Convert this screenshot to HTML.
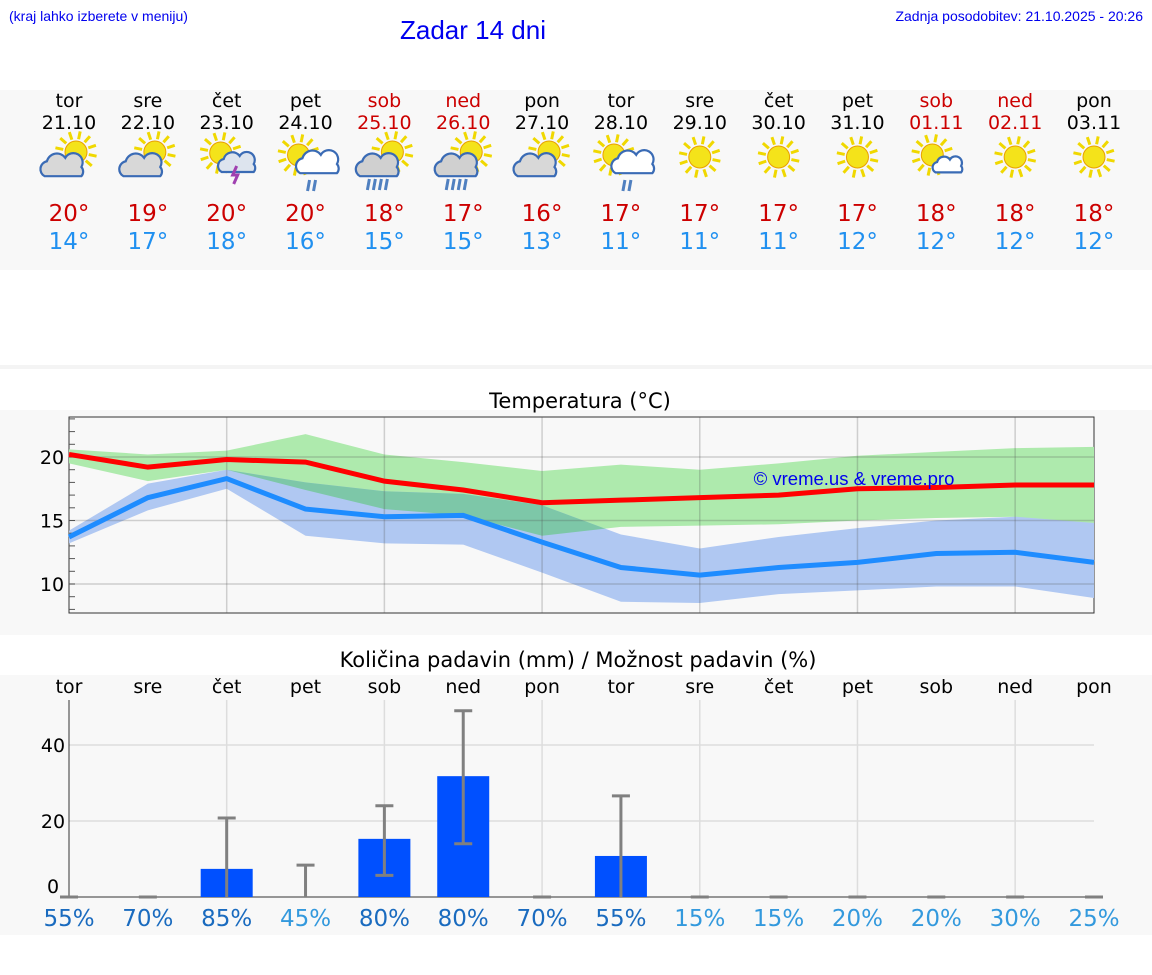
<!DOCTYPE html>
<html><head><meta charset="utf-8"><style>
body{margin:0;width:1152px;height:975px;background:#fff;font-family:"DejaVu Sans","Liberation Sans",sans-serif;position:relative;overflow:hidden}
.a{position:absolute}
.band{position:absolute;left:0;width:1152px;background:#f8f8f8}
.hd{font-family:"Liberation Sans",sans-serif}
</style></head><body>
<div class="a hd" style="left:9px;top:8px;font-size:14px;color:#0000ee">(kraj lahko izberete v meniju)</div>
<div class="a hd" style="left:400px;top:15px;font-size:26px;color:#0000ee">Zadar 14 dni</div>
<div class="a hd" style="right:9px;top:8px;font-size:14px;color:#0000ee">Zadnja posodobitev: 21.10.2025 - 20:26</div>
<div class="band" style="top:90px;height:180px"></div>
<div class="band" style="top:365px;height:4px;background:#f4f4f4"></div>
<div class="band" style="top:410px;height:225px"></div>
<div class="band" style="top:675px;height:260px"></div>
<svg class="a" style="left:0;top:0" width="1152" height="975" id="s"></svg>
<script>
const days=["tor","sre","čet","pet","sob","ned","pon","tor","sre","čet","pet","sob","ned","pon"];
const dates=["21.10","22.10","23.10","24.10","25.10","26.10","27.10","28.10","29.10","30.10","31.10","01.11","02.11","03.11"];
const weekend=[0,0,0,0,1,1,0,0,0,0,0,1,1,0];
const icons=["pc","pc","storm","rain","shower","shower","pc","rain","sun","sun","sun","sc","sun","sun"];
const tMax=[20,19,20,20,18,17,16,17,17,17,17,18,18,18];
const tMin=[14,17,18,16,15,15,13,11,11,11,12,12,12,12];
const maxLine=[20.2,19.2,19.8,19.6,18.1,17.4,16.4,16.6,16.8,17.0,17.5,17.6,17.8,17.8];
const maxHi=[20.6,20.2,20.5,21.8,20.2,19.6,18.9,19.4,19.0,19.5,20.1,20.4,20.7,20.8];
const maxLo=[19.5,18.1,19.0,17.4,15.9,15.4,13.8,14.5,14.6,14.7,15.0,15.2,15.3,14.8];
const minLine=[13.7,16.8,18.3,15.9,15.3,15.4,13.3,11.3,10.7,11.3,11.7,12.4,12.5,11.7];
const minHi=[14.2,17.9,19.0,18.0,17.3,17.1,16.2,13.9,12.8,13.7,14.4,15.0,15.3,14.8];
const minLo=[13.2,15.8,17.5,13.8,13.2,13.1,10.9,8.6,8.5,9.2,9.5,9.8,9.8,8.9];
const tTicks=[10,15,20];
const rain=[0,0,7.4,0,15.3,31.8,0,10.8,0,0,0,0,0,0];
const rainLo=[0,0,0,0,5.7,14,0,0,0,0,0,0,0,0];
const rainHi=[0,0,20.8,8.4,24,49,0,26.6,0,0,0,0,0,0];
const prob=[55,70,85,45,80,80,70,55,15,15,20,20,30,25];
const rTicks=[0,20,40];
const S=document.getElementById('s'),NS='http://www.w3.org/2000/svg';
function el(t,a,p){const e=document.createElementNS(NS,t);for(const k in a)e.setAttribute(k,a[k]);(p||S).appendChild(e);return e}
function tx(x,y,s,o){const e=el('text',Object.assign({x:x,y:y,'text-anchor':'middle','font-family':'DejaVu Sans, Liberation Sans, sans-serif'},o));e.textContent=s;return e}
const X=i=>69+i*(1094-69)/13;
function sun(g,cx,cy,r){for(let k=0;k<12;k++){const a=k*Math.PI/6+0.2;el('line',{x1:cx+Math.cos(a)*(r+2),y1:cy+Math.sin(a)*(r+2),x2:cx+Math.cos(a)*(r+10),y2:cy+Math.sin(a)*(r+10),stroke:'#f0d800','stroke-width':3},g)}el('circle',{cx:cx,cy:cy,r:r,fill:'#f4e31a',stroke:'#e8a000','stroke-width':1},g)}
function cloud(g,cx,cy,sc,fill){el('path',{d:`M${cx-16*sc},${cy+8*sc} a${7*sc},${7*sc} 0 0 1 ${2*sc},${-13*sc} a${9*sc},${9*sc} 0 0 1 ${16*sc},${-3*sc} a${8*sc},${8*sc} 0 0 1 ${14*sc},${8*sc} a${6*sc},${6*sc} 0 0 1 0,${8*sc} z`,fill:fill,stroke:'#3a6bb5','stroke-width':2.2},g)}
icons.forEach((t,i)=>{const c=X(i);
 const g=el('g',{});
 
 
 const c1=weekend[i]?'#cc0000':'#000';
 tx(c,107,days[i],{'font-size':19,fill:c1});
 tx(c,129,dates[i],{'font-size':19,fill:c1});
 if(t=='sun'){sun(g,c,157,11)}
 else if(t=='pc'){sun(g,c+7,152,11);cloud(g,c-6,167,1.15,'#d8d8d8')}
 else if(t=='storm'){sun(g,c-6,153,11);cloud(g,c+11,164,1,'#dde4ee');el('path',{d:`M${c+10},166 l-4,9 h5 l-4,9`,stroke:'#a040b0','stroke-width':3,fill:'none'},g)}
 else if(t=='rain'){sun(g,c-7,155,11);cloud(g,c+13,164,1.15,'#fff');el('path',{d:`M${c+4},180 l-2,11 M${c+10},180 l-2,11`,stroke:'#5080c0','stroke-width':3},g)}
 else if(t=='shower'){sun(g,c+8,152,11);cloud(g,c-6,167,1.15,'#d0d0d0');el('path',{d:`M${c-15},179 l-2,11 M${c-9},179 l-2,11 M${c-3},179 l-2,11 M${c+3},179 l-2,11`,stroke:'#5080c0','stroke-width':3},g)}
 else if(t=='sc'){sun(g,c-4,155,11);cloud(g,c+12,166,0.8,'#fff')}
 tx(c,221,tMax[i]+'°',{'font-size':23,fill:'#cc0000'});
 tx(c,249,tMin[i]+'°',{'font-size':23,fill:'#2090f0'});
});
const T=v=>457-(v-20)*12.7;
tx(580,408,'Temperatura (°C)',{'font-size':21,fill:'#000'});
el('rect',{x:69,y:417,width:1025,height:196,fill:'#f8f8f8',stroke:'#333','stroke-width':1});
function pts(hi,lo){return hi.map((v,i)=>X(i)+','+T(v)).concat(lo.map((v,i)=>X(i)+','+T(v)).reverse()).join(' ')}
const defs=el('defs',{});const cp=el('clipPath',{id:'bc'},defs);el('polygon',{points:pts(minHi,minLo)},cp);
const gb=el('polygon',{points:pts(maxHi,maxLo),fill:'#aeeaad'});

const bb=el('polygon',{points:pts(minHi,minLo),fill:'#b0c8f2'});

const ov=el('polygon',{points:pts(maxHi,maxLo),fill:'#7dc7a8','clip-path':'url(#bc)'});

for(let i=2;i<14;i+=2)el('line',{x1:X(i),x2:X(i),y1:417,y2:613,stroke:'rgba(80,80,80,0.25)','stroke-width':1.5});
for(let v=8;v<=23;v++){el('line',{x1:69,x2:75,y1:T(v),y2:T(v),stroke:'#555'})}
tTicks.forEach(v=>{el('line',{x1:69,x2:1094,y1:T(v),y2:T(v),stroke:'rgba(80,80,80,0.25)','stroke-width':1.5});tx(52,T(v)+7,v,{'font-size':19,fill:'#000'})});
function line(d,c,n){const e=el('polyline',{points:d.map((v,i)=>X(i)+','+T(v)).join(' '),fill:'none',stroke:c,'stroke-width':5});}
line(minLine,'#1e8cff','min-temp-line');
line(maxLine,'#ff0000','max-temp-line');
tx(854,485,'© vreme.us & vreme.pro',{'font-size':18.5,fill:'#0000ee','font-family':'Liberation Sans, sans-serif'});
const R=v=>897-v*3.8;
tx(578,667,'Količina padavin (mm) / Možnost padavin (%)',{'font-size':21,fill:'#000'});
days.forEach((d,i)=>tx(X(i),693,d,{'font-size':19,fill:'#000'}));
el('rect',{x:69,y:700,width:1025,height:197,fill:'#f8f8f8'});
for(let i=2;i<14;i+=2)el('line',{x1:X(i),x2:X(i),y1:700,y2:897,stroke:'#ddd','stroke-width':1.5});
rTicks.forEach(v=>{if(v)el('line',{x1:69,x2:1094,y1:R(v),y2:R(v),stroke:'#ddd','stroke-width':1.5});tx(53,R(v)+(v?7:-4),v,{'font-size':19,fill:'#000'})});
el('path',{d:'M69,700 V897 H1094',stroke:'#333',fill:'none'});
rain.forEach((v,i)=>{if(v>0){const b=el('rect',{x:X(i)-26,y:R(v),width:52,height:897-R(v),fill:'#0050ff'});}
 const e=el('path',{d:`M${X(i)},${R(rainLo[i])} V${R(rainHi[i])} M${X(i)-9},${R(rainHi[i])} h18`+(rainLo[i]>0?` M${X(i)-9},${R(rainLo[i])} h18`:''),stroke:'#808080','stroke-width':3,fill:'none'});
 
 tx(X(i),926,prob[i]+'%',{'font-size':23,fill:prob[i]>=55?'#1a6bbf':'#3399dd'});
});
</script>
</body></html>
